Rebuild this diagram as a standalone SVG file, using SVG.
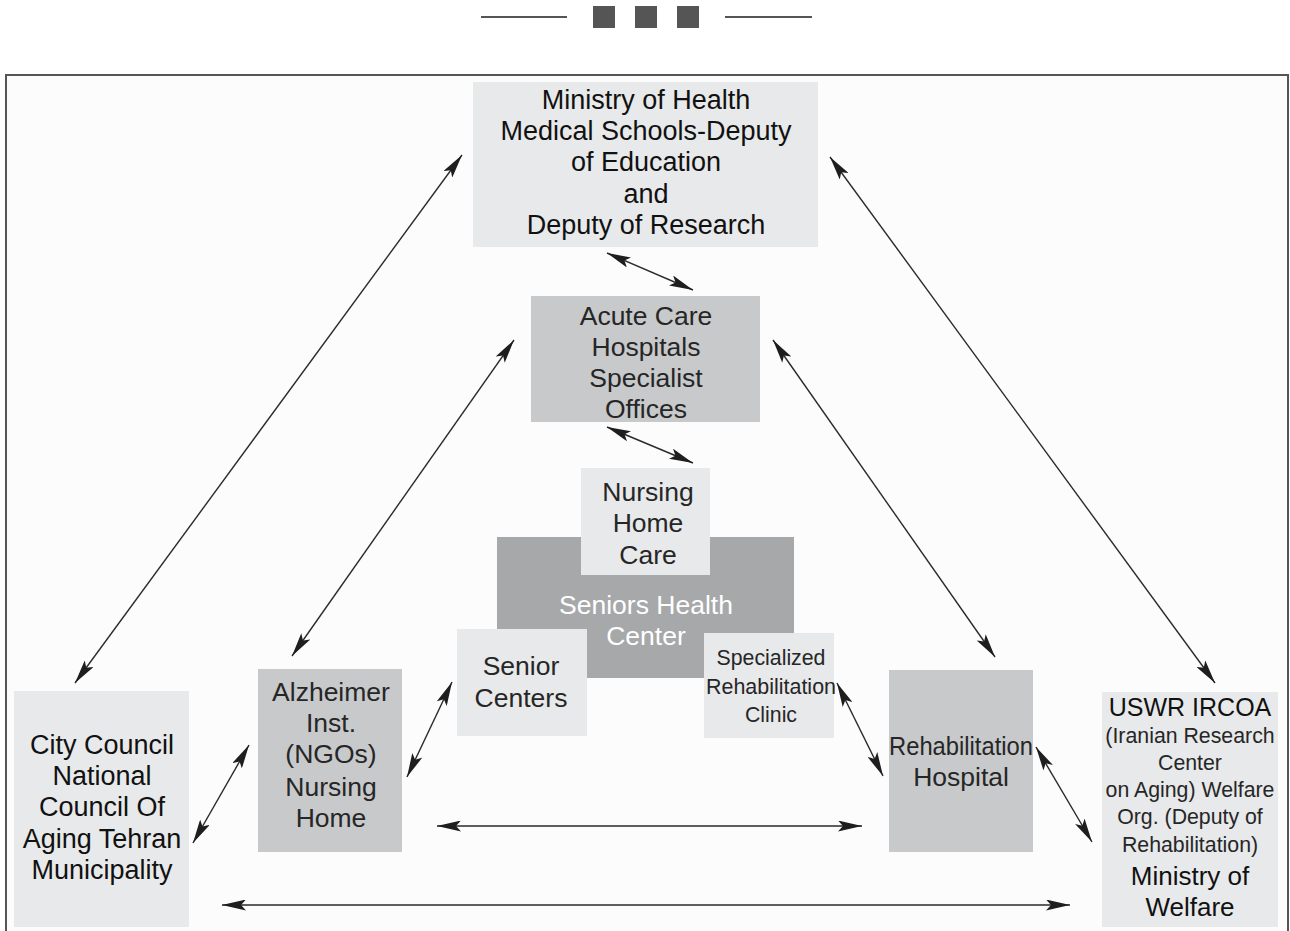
<svg xmlns="http://www.w3.org/2000/svg" width="1290" height="931" viewBox="0 0 1290 931">
<defs>
<marker id="ah" viewBox="0 0 24 11" refX="24" refY="5.5" markerWidth="24" markerHeight="11" markerUnits="userSpaceOnUse" orient="auto-start-reverse">
<path d="M0,0 L24,5.5 L0,11 L5,5.5 z" fill="#1e1e1e"/>
</marker>
</defs>
<style>
.light{fill:#e8e9ea}
.mid{fill:#c8c9cb}
.dark{fill:#a7a8aa}
.t{font-family:"Liberation Sans",Arial,sans-serif;font-size:26.5px;fill:#262626;text-anchor:middle}
.tb{fill:#111;font-size:27px}
.ts{font-size:21.3px}
.tw{fill:#ffffff}
.c line{stroke:#2a2a2a;stroke-width:1.4;marker-start:url(#ah);marker-end:url(#ah)}
</style>
<rect x="0" y="0" width="1290" height="931" fill="#ffffff"/>
<g id="header" fill="#555">
<rect x="481" y="16" width="86" height="2"/>
<rect x="593" y="6" width="22" height="22"/>
<rect x="635" y="6" width="22" height="22"/>
<rect x="677" y="6" width="22" height="22"/>
<rect x="725" y="16" width="87" height="2"/>
</g>
<rect id="frame" x="6" y="75" width="1282" height="870" fill="#fcfcfc" stroke="#555" stroke-width="2"/>

<g id="ministry-health">
<rect class="light" x="473" y="82" width="345" height="165"/>
<text class="t tb" x="646" y="109">Ministry of Health</text>
<text class="t tb" x="646" y="140">Medical Schools-Deputy</text>
<text class="t tb" x="646" y="171">of Education</text>
<text class="t tb" x="646" y="203">and</text>
<text class="t tb" x="646" y="234">Deputy of Research</text>
</g>
<g id="acute-care">
<rect class="mid" x="531" y="296" width="229" height="126"/>
<text class="t" x="646" y="325">Acute Care</text>
<text class="t" x="646" y="356">Hospitals</text>
<text class="t" x="646" y="387">Specialist</text>
<text class="t" x="646" y="418">Offices</text>
</g>
<g id="seniors-health-center">
<rect class="dark" x="497" y="537" width="297" height="141"/>
<text class="t tw" x="646" y="614">Seniors Health</text>
<text class="t tw" x="646" y="645">Center</text>
</g>
<g id="nursing-home-care">
<rect class="light" x="581" y="468" width="129" height="107"/>
<text class="t" x="648" y="501">Nursing</text>
<text class="t" x="648" y="532">Home</text>
<text class="t" x="648" y="564">Care</text>
</g>
<g id="senior-centers">
<rect class="light" x="457" y="629" width="130" height="107"/>
<text class="t" x="521" y="675">Senior</text>
<text class="t" x="521" y="707">Centers</text>
</g>
<g id="specialized-rehab">
<rect class="light" x="704" y="633" width="130" height="105"/>
<text class="t ts" x="771" y="665">Specialized</text>
<text class="t ts" x="771" y="694" textLength="130" lengthAdjust="spacingAndGlyphs">Rehabilitation</text>
<text class="t ts" x="771" y="722">Clinic</text>
</g>
<g id="alzheimer">
<rect class="mid" x="258" y="669" width="144" height="183"/>
<text class="t" x="331" y="701">Alzheimer</text>
<text class="t" x="331" y="732">Inst.</text>
<text class="t" x="331" y="763">(NGOs)</text>
<text class="t" x="331" y="796">Nursing</text>
<text class="t" x="331" y="827">Home</text>
</g>
<g id="rehab-hospital">
<rect class="mid" x="889" y="670" width="144" height="182"/>
<text class="t" x="961" y="755" textLength="144" lengthAdjust="spacingAndGlyphs">Rehabilitation</text>
<text class="t" x="961" y="786">Hospital</text>
</g>
<g id="city-council">
<rect class="light" x="14" y="691" width="175" height="236"/>
<text class="t tb" x="102" y="754">City Council</text>
<text class="t tb" x="102" y="785">National</text>
<text class="t tb" x="102" y="816">Council Of</text>
<text class="t tb" x="102" y="848">Aging Tehran</text>
<text class="t tb" x="102" y="879">Municipality</text>
</g>
<g id="uswr">
<rect class="light" x="1102" y="692" width="176" height="235"/>
<text class="t tb" x="1190" y="716" style="font-size:25px">USWR IRCOA</text>
<text class="t ts" x="1190" y="743">(Iranian Research</text>
<text class="t ts" x="1190" y="770">Center</text>
<text class="t ts" x="1190" y="797">on Aging) Welfare</text>
<text class="t ts" x="1190" y="824">Org. (Deputy of</text>
<text class="t ts" x="1190" y="852">Rehabilitation)</text>
<text class="t tb" x="1190" y="885" style="font-size:26px">Ministry of</text>
<text class="t tb" x="1190" y="916" style="font-size:26px">Welfare</text>
</g>

<g id="connectors" class="c">
<line x1="462" y1="155" x2="75" y2="683"/>
<line x1="830" y1="157" x2="1215" y2="683"/>
<line x1="607" y1="253" x2="693" y2="290"/>
<line x1="607" y1="427" x2="693" y2="463"/>
<line x1="514" y1="340" x2="292" y2="656"/>
<line x1="773" y1="340" x2="995" y2="657"/>
<line x1="249" y1="745" x2="193" y2="843"/>
<line x1="452" y1="682" x2="407" y2="777"/>
<line x1="837" y1="683" x2="883" y2="776"/>
<line x1="1036" y1="747" x2="1092" y2="842"/>
<line x1="437" y1="826" x2="862" y2="826"/>
<line x1="222" y1="905" x2="1070" y2="905"/>
</g>
</svg>
